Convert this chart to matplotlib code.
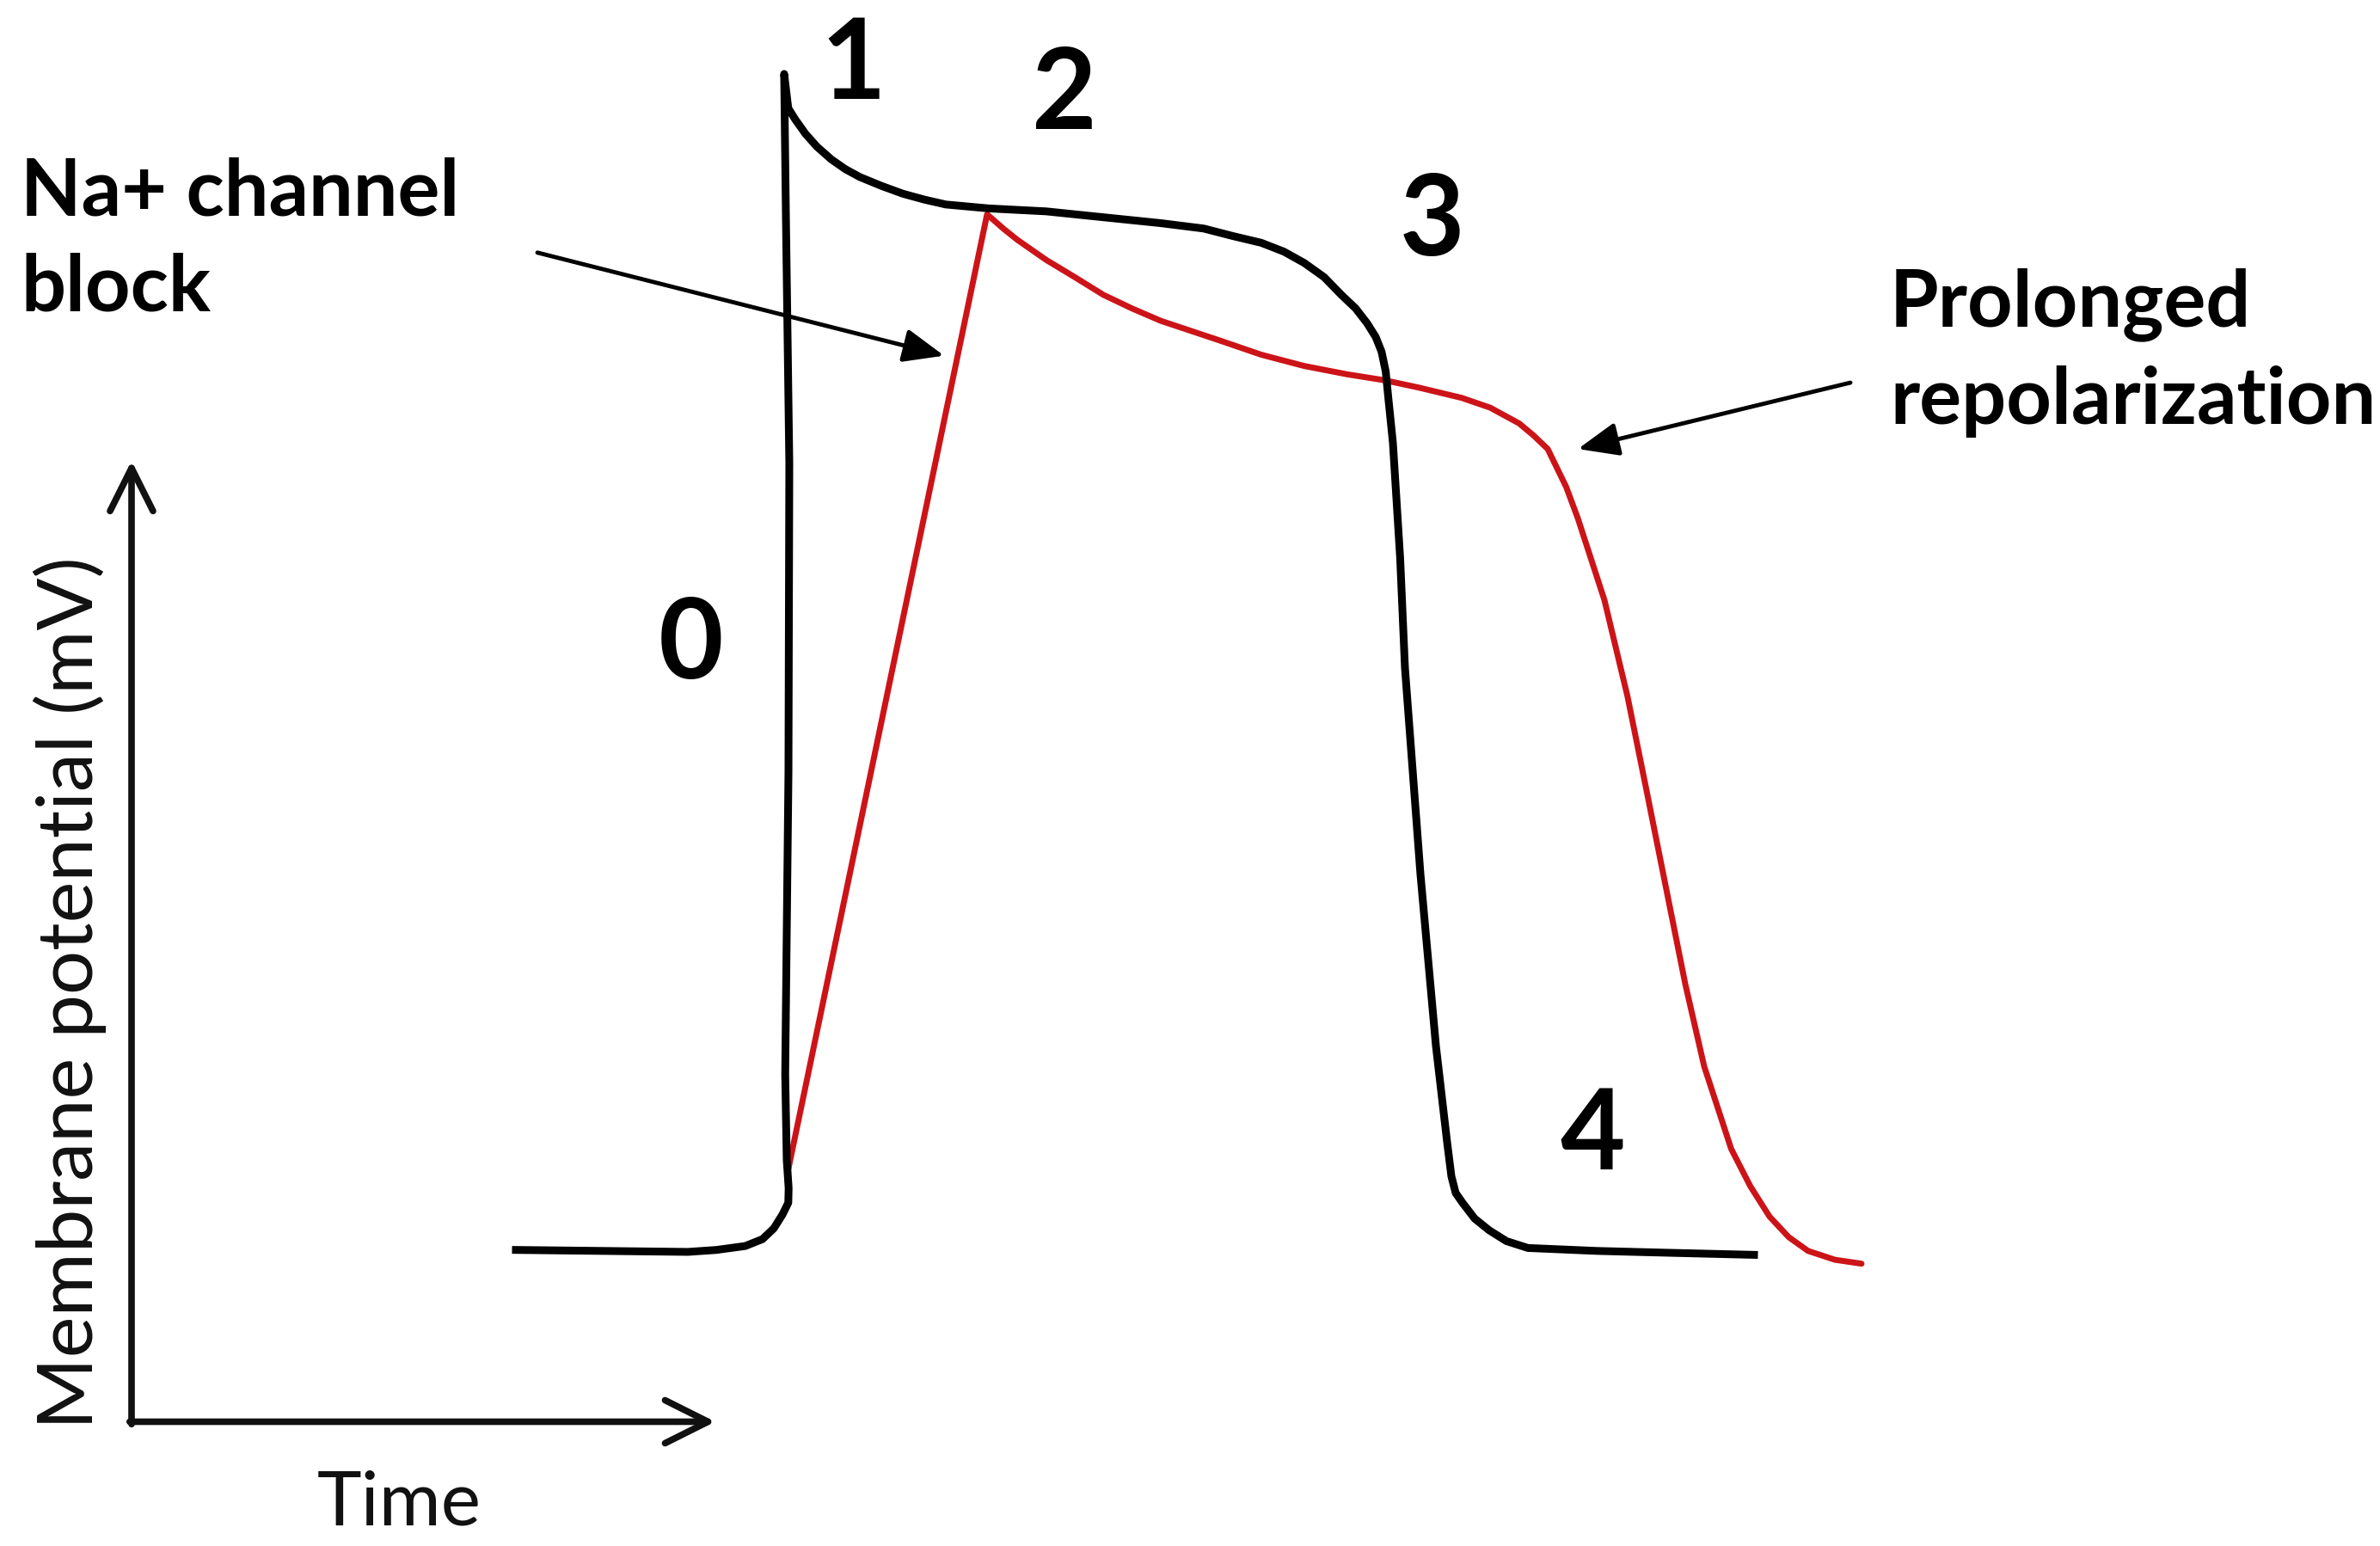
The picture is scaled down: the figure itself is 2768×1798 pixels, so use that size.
import matplotlib.pyplot as plt

# Schematic cardiac action potential, time in ms, membrane potential in mV
normal_t = [0, 25, 50, 58.3, 66.7, 71.7, 75, 77.5, 79.2, 79.3, 78.75, 78.3,
            79.25, 79.5, 78.5, 78,
            79.2, 81.25, 84.2, 87.5, 91.7, 95.8, 100, 106.25, 112.5, 118.75,
            125, 131.25, 137.5, 154.2, 170.8, 187.5, 200, 208.3, 216.7, 223.3,
            229.2, 235, 240, 244.2, 247.5, 250, 251.7, 252.9, 253.75, 255,
            257.1, 258.5, 263, 267.5, 270.75, 272, 273.25, 275.25, 278.75,
            283, 288, 294.25, 314.25, 336.5, 360]
normal_v = [-89.8, -89.9, -90, -89.8, -89.4, -88.7, -87.6, -86.2, -85, -83.5,
            -80.6, -71.9, -41.2, -9.7, 15.7, 30,
            26.5, 25.35, 23.9, 22.6, 21.3, 20.3, 19.5, 18.6, 17.8, 17.2, 16.7,
            16.5, 16.3, 16.0, 15.4, 14.8, 14.25, 13.5, 12.8, 11.9, 10.75, 9.3,
            7.5, 6.1, 4.6, 3.2, 1.7, -0.3, -3.3, -7.6, -19.3, -30.5, -51.5,
            -69, -78.8, -82.3, -84, -85, -86.6, -87.8, -88.9, -89.6, -89.9,
            -90.1, -90.3]

blocked_t = [79.25, 137, 141.7, 145.8, 154.2, 162.5, 170.8,
             179.2, 187.5, 204.2, 216.7, 229.2, 241.7, 252.5, 262.5, 275,
             283.3, 291.7, 295.8, 300, 305.35, 308.7, 316.5, 323.2, 328.8,
             334.4, 340, 345.5, 353.35, 358.9, 364.5, 370.1, 375.7, 383.5,
             391.25]
blocked_v = [-81.5, 15.7, 14.25, 13.1, 11.05, 9.3, 7.5, 6.1,
             4.85, 2.9, 1.4, 0.25, -0.6, -1.2, -1.95, -3.0, -4.0, -5.6, -6.8,
             -8.2, -12.05, -15.2, -23.6, -33.4, -43.1, -52.9, -62.7, -71.1,
             -79.5, -83.3, -86.4, -88.5, -89.9, -90.8, -91.2]

phase_labels = ['0', '1', '2', '3', '4']
phase_t = [50.8, 98, 159.5, 266.3, 313]
phase_v = [-28.2, 30.8, 27.8, 14.9, -78.2]

RED = '#cc1418'
FONT = 'Lato'

fig = plt.figure(figsize=(27.68, 17.99), dpi=100, facecolor='white')
ax = fig.add_axes([0, 0, 1, 1])
ax.set_xlim(-150, 542)
ax.set_ylim(-119.96, 37.62)
ax.axis('off')

ax.plot(blocked_t, blocked_v, color=RED, lw=5, solid_joinstyle='round',
        solid_capstyle='round', zorder=2)
ax.plot(normal_t, normal_v, color='black', lw=6.5, solid_joinstyle='round',
        zorder=3)

# axes drawn as open arrows
axis_style = dict(arrowstyle='->,head_length=0.9,head_width=0.45',
                  lw=5.5, color='#111111', mutation_scale=40,
                  shrinkA=0, shrinkB=0)
ax.annotate('', xy=(-111.75, -9.4), xytext=(-111.75, -107.55),
            arrowprops=axis_style)
ax.annotate('', xy=(58, -107.3), xytext=(-112.3, -107.3),
            arrowprops=axis_style)

ax.text(-129.75, -63.55, 'Membrane potential (mV)', rotation=90,
        ha='center', va='center', fontsize=65, family=FONT, color='#111111')
ax.text(-34, -115.6, 'Time', ha='center', va='center', fontsize=63,
        family=FONT, color='#111111')

for lab, t, v in zip(phase_labels, phase_t, phase_v):
    ax.text(t, v, lab, ha='center', va='center', fontsize=94,
            fontweight='bold', family=FONT, color='black')

# annotations
note_style = dict(arrowstyle='-|>,head_length=0.8,head_width=0.33', lw=3.5,
                  color='black', mutation_scale=36, shrinkA=0, shrinkB=0)
ax.annotate('', xy=(124.5, 1.3), xytext=(6.25, 11.8), arrowprops=note_style)
ax.annotate('', xy=(308.8, -8.2), xytext=(388, -1.45), arrowprops=note_style)

ax.text(-144, 13.1, 'Na+ channel\nblock', ha='left', va='center',
        fontsize=66, fontweight='bold', family=FONT, linespacing=1.4)
ax.text(399.5, 1.7, 'Prolonged\nrepolarization', ha='left', va='center',
        fontsize=66, fontweight='bold', family=FONT, linespacing=1.4)

fig.savefig('out.png', dpi=100, facecolor='white')
